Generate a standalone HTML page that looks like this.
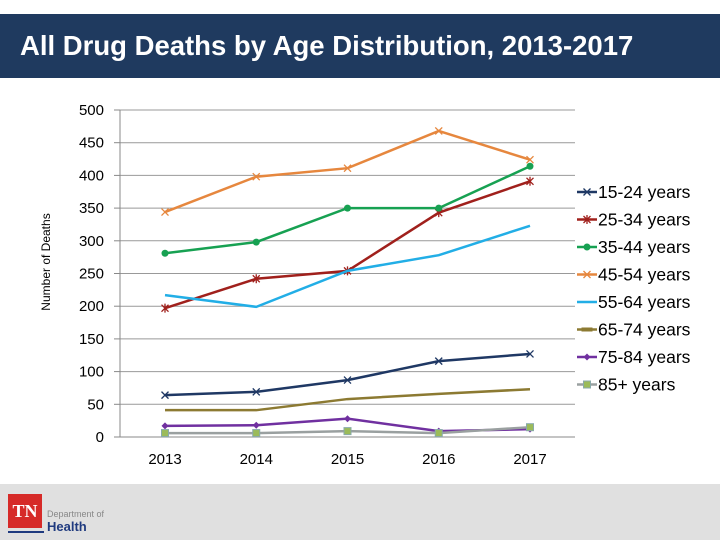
<!DOCTYPE html>
<html><head><meta charset="utf-8"><style>
body{margin:0;width:720px;height:540px;background:#fff;font-family:"Liberation Sans",sans-serif;overflow:hidden;position:relative}
</style></head><body>
<div style="position:absolute;left:0;top:14px;width:720px;height:64px;background:#1f3a5f"></div>
<div style="position:absolute;left:20px;top:30px;color:#fff;font-size:27.5px;font-weight:bold">All Drug Deaths by Age Distribution, 2013-2017</div>
<div style="position:absolute;left:0;top:484px;width:720px;height:56px;background:#e0e0e0"></div>
<div style="position:absolute;left:8px;top:494px;width:34px;height:34px;background:#d62a28;color:#fff;font-family:'Liberation Serif',serif;font-weight:bold;font-size:18px;line-height:34px;text-align:center">TN</div>
<div style="position:absolute;left:8px;top:531px;width:36px;height:2px;background:#1f3a7f"></div>
<div style="position:absolute;left:47px;top:509px;font-size:9px;color:#888">Department of</div>
<div style="position:absolute;left:47px;top:519px;font-size:13px;font-weight:bold;color:#1f3a7f">Health</div>
<svg id="chart" width="720" height="540" style="position:absolute;left:0;top:0"></svg>
<script>
const years=["2013","2014","2015","2016","2017"];
const yTicks=[0,50,100,150,200,250,300,350,400,450,500];
const s1524=[64,69,87,116,127];
const s2534=[197,242,254,343,391];
const s3544=[281,298,350,350,414];
const s4554=[344,398,411,468,424];
const s5564=[217,199,254,278,323];
const s6574=[41,41,58,66,73];
const s7584=[17,18,28,9,12];
const s85=[6,6,9,6,15];
const names=["15-24 years","25-34 years","35-44 years","45-54 years","55-64 years","65-74 years","75-84 years","85+ years"];
const series=[s1524,s2534,s3544,s4554,s5564,s6574,s7584,s85];
const colors=["#1f3864","#a0201c","#17a152","#e6873e","#22aee6","#8c7a32","#7030a0","#9aa0a0"];
const markers=["x","star","circle","x","none","dash","diamond","square"];
const NS="http://www.w3.org/2000/svg";
const svg=document.getElementById("chart");
const x=i=>165+i*91.25;
const y=v=>437-v*0.654;
function mk(t,a){const e=document.createElementNS(NS,t);for(const k in a)e.setAttribute(k,a[k]);svg.appendChild(e);return e;}
yTicks.forEach(t=>{
 const g=mk("line",{x1:120,x2:575,y1:y(t),y2:y(t),stroke:t==0?"#888":"#999","stroke-width":1});
 
 
 const tk=mk("line",{x1:114,x2:120,y1:y(t),y2:y(t),stroke:"#888"});
 
 
 const l=mk("text",{x:104,y:y(t)+5,"text-anchor":"end","font-size":15,fill:"#000"});l.textContent=t;
 
 
});
const ax=mk("line",{x1:120,x2:120,y1:y(0),y2:y(500),stroke:"#888"});


years.forEach((yr,i)=>{
 const l=mk("text",{x:x(i),y:464,"text-anchor":"middle","font-size":15});l.textContent=yr;
 
 
});
const yt=mk("text",{x:0,y:0,"font-size":12,"text-anchor":"middle",transform:"translate(50,262) rotate(-90)"});yt.textContent="Number of Deaths";


function marker(type,cx,cy,c){
 let e;
 if(type=="x"){e=mk("path",{d:`M${cx-3.5},${cy-3.5}L${cx+3.5},${cy+3.5}M${cx-3.5},${cy+3.5}L${cx+3.5},${cy-3.5}`,stroke:c,"stroke-width":1.3});}
 else if(type=="star"){e=mk("path",{d:`M${cx-3.5},${cy-3.5}L${cx+3.5},${cy+3.5}M${cx-3.5},${cy+3.5}L${cx+3.5},${cy-3.5}M${cx},${cy-4.5}L${cx},${cy+4.5}`,stroke:c,"stroke-width":1.3});}
 else if(type=="circle"){e=mk("circle",{cx,cy,r:3.5,fill:c});}
 else if(type=="diamond"){e=mk("path",{d:`M${cx},${cy-3.5}L${cx+3.5},${cy}L${cx},${cy+3.5}L${cx-3.5},${cy}Z`,fill:c});}
 else if(type=="square"){e=mk("rect",{x:cx-3.5,y:cy-3.5,width:7,height:7,fill:"#9bbb59",stroke:"#8aa"});}
 else if(type=="dash"){e=mk("rect",{x:cx-5,y:cy-1.5,width:10,height:3,fill:"none",stroke:c});}
 else return;
 
 
}
series.forEach((s,k)=>{
 const p=mk("polyline",{points:s.map((v,i)=>x(i)+","+y(v)).join(" "),fill:"none",stroke:colors[k],"stroke-width":2.5});
 
 
 if(markers[k]!="dash") s.forEach((v,i)=>marker(markers[k],x(i),y(v),colors[k]));
 const ly=192+k*27.5;
 const ll=mk("line",{x1:577,x2:597,y1:ly,y2:ly,stroke:colors[k],"stroke-width":2.5});
 
 
 marker(markers[k],587,ly,colors[k]);
 const lt=mk("text",{x:598,y:ly+6,"font-size":17.5});lt.textContent=names[k];
 
 
});
</script>
</body></html>
